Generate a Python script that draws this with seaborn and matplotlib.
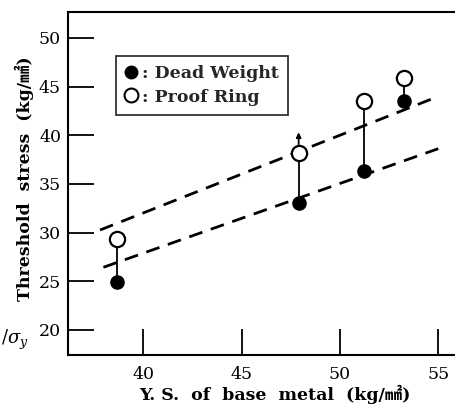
import matplotlib
matplotlib.use("Agg")
import matplotlib.pyplot as plt
import seaborn as sns
import pandas as pd
from matplotlib.lines import Line2D

sns.set_theme(style="white")
plt.rcParams['font.family'] = ['DejaVu Serif', 'Noto Sans CJK JP']
plt.rcParams['mathtext.fontset'] = 'dejavuserif'

# data
ys_base = [38.65, 47.9, 51.22, 53.27]
dead_weight = [24.9, 33.0, 36.37, 43.5]
proof_ring = [29.3, 38.2, 43.5, 45.9]
upper_line_x = [37.8, 54.66]
upper_line_y = [30.27, 43.73]
lower_line_x = [37.97, 55.0]
lower_line_y = [26.44, 38.63]
xticks = [40, 45, 50, 55]
yticks = [20, 25, 30, 35, 40, 45, 50]

fig = plt.figure(figsize=(4.55, 4.09), dpi=100)
ax = fig.add_axes([68/455, 1-355/409, 387/455, 343/409])

ax.set_xlim(36.17, 55.85)
ax.set_ylim(17.43, 52.67)

# dashed lines
sns.lineplot(x=upper_line_x, y=upper_line_y, ax=ax, color='black', lw=2.0,
             linestyle=(0, (5, 3.2)), sort=False)
sns.lineplot(x=lower_line_x, y=lower_line_y, ax=ax, color='black', lw=2.0,
             linestyle=(0, (5, 3.2)), sort=False)

# connectors
ax.vlines(ys_base, dead_weight, proof_ring, color='black', lw=1.3, zorder=2)

# arrow above second proof ring point
ax.annotate('', xy=(ys_base[1], proof_ring[1] + 2.4), xytext=(ys_base[1], proof_ring[1] + 0.6),
            arrowprops=dict(arrowstyle='-|>', color='black', lw=1.3, mutation_scale=7))

df_dw = pd.DataFrame({'x': ys_base, 'y': dead_weight})
df_pr = pd.DataFrame({'x': ys_base, 'y': proof_ring})
sns.scatterplot(data=df_dw, x='x', y='y', ax=ax, color='black', s=90,
                edgecolor='black', linewidth=1, zorder=4)
sns.scatterplot(data=df_pr, x='x', y='y', ax=ax, color='white', s=120,
                edgecolor='black', linewidth=1.6, zorder=4)

ax.set_xlabel('')
ax.set_ylabel('')
ax.set_xticks(xticks)
ax.set_yticks(yticks)
ax.set_xticklabels([str(t) for t in xticks], fontsize=12.5)
ax.set_yticklabels([str(t) for t in yticks], fontsize=12.5)
ax.tick_params(axis='both', direction='in', length=19, width=1.3, color='black',
               left=True, bottom=True, pad=5, labelcolor='black')
ax.tick_params(axis='x', pad=8)

for side in ['left', 'bottom', 'top']:
    ax.spines[side].set_color('black')
    ax.spines[side].set_linewidth(1.5)
ax.spines['right'].set_visible(False)

fig.text(275/455, 1-394/409, 'Y. S.  of  base  metal  (kg/㎟)', ha='center', va='center',
         fontsize=12.5, fontweight='bold', color='black')
fig.text(24/455, 1-179/409, 'Threshold  stress  (kg/㎟)', ha='center', va='center',
         rotation=90, fontsize=12.5, fontweight='bold', color='black')
fig.text(0.002, 1-340/409, r'$/\sigma_y$', ha='left', va='center', fontsize=13, color='black')

handles = [Line2D([], [], marker='o', ls='', color='black', markersize=9),
           Line2D([], [], marker='o', ls='', markerfacecolor='white',
                  markeredgecolor='black', markeredgewidth=1.5, markersize=10)]
leg = ax.legend(handles, [': Dead Weight', ': Proof Ring'], loc='upper left',
                bbox_to_anchor=(0.125, 0.872), frameon=True, fancybox=False,
                edgecolor='black', handlelength=0.6, handletextpad=0.3,
                borderpad=0.55, labelspacing=0.35, borderaxespad=0,
                prop={'size': 12.5, 'weight': 'bold'})
leg.get_frame().set_linewidth(1.3)

fig.savefig('out.png', dpi=100)
